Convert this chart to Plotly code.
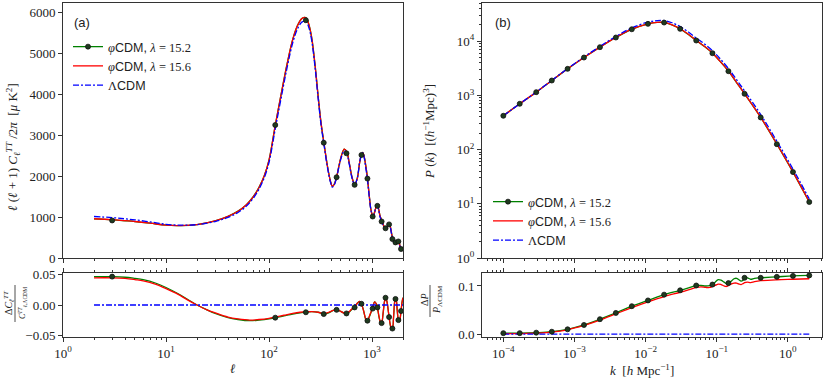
import plotly.graph_objects as go

# ─── Colours ────────────────────────────────────────────────────────────────
GREEN = "#008000"
RED = "#ff0000"
BLUE = "#0000ff"
AXIS = "#333333"
TEXT = "#222222"
SERIF = "Liberation Serif"
SANS = "Liberation Sans"

# ─── (a) CMB TT spectrum ────────────────────────────────────────────────────
ELL = [2, 3, 4, 5, 7, 10, 14, 20, 30, 40, 50, 60, 70, 80, 90, 100, 115, 130,
       150, 170, 190, 210, 228, 245, 260, 280, 300, 320, 340, 370, 395, 412,
       430, 454, 480, 510, 538, 568, 600, 640, 679, 720, 760, 790, 813, 840,
       870, 900, 940, 980, 1023, 1060, 1100, 1127, 1160, 1200, 1243, 1290,
       1348, 1400, 1440, 1476, 1520, 1560, 1589, 1620, 1660, 1710, 1760, 1800,
       1850, 1900, 1950, 2000]
DL_LCDM = [1012, 985, 955, 930, 880, 822, 800, 815, 890, 990, 1110, 1260, 1450,
           1680, 1960, 2330, 3150, 3850, 4650, 5250, 5600, 5760, 5780, 5600,
           5300, 4650, 3900, 3250, 2800, 2200, 1850, 1730, 1780, 1970, 2250,
           2500, 2620, 2560, 2300, 1950, 1790, 1950, 2350, 2520, 2570, 2450,
           2200, 1940, 1500, 1150, 1010, 1120, 1250, 1272, 1170, 990, 890, 790,
           730, 760, 810, 827, 700, 540, 462, 400, 370, 380, 400, 404, 330, 220,
           200, 190]
DL_PHI_156 = [957, 935, 910, 890, 850, 800, 792, 815, 905, 1015, 1140, 1292,
              1485, 1720, 2005, 2385, 3230, 3940, 4735, 5330, 5680, 5845, 5860,
              5675, 5365, 4705, 3945, 3295, 2840, 2230, 1875, 1748, 1797, 1985,
              2272, 2530, 2655, 2595, 2330, 1970, 1797, 1945, 2340, 2515, 2575,
              2470, 2250, 1990, 1525, 1160, 1016, 1117, 1250, 1277, 1190, 1020,
              917, 800, 722, 760, 820, 835, 715, 560, 480, 407, 368, 378, 403,
              412, 340, 226, 202, 188]
DL_PHI_152 = [955, 932, 908, 888, 849, 800, 792, 816, 907, 1017, 1143, 1295,
              1488, 1723, 2008, 2388, 3233, 3943, 4738, 5333, 5683, 5848, 5862,
              5677, 5367, 4707, 3947, 3297, 2842, 2232, 1877, 1749, 1798, 1986,
              2273, 2531, 2656, 2596, 2331, 1971, 1798, 1946, 2341, 2516, 2576,
              2471, 2251, 1991, 1526, 1161, 1017, 1118, 1251, 1278, 1191, 1021,
              918, 801, 723, 761, 821, 836, 716, 561, 481, 408, 369, 379, 404,
              413, 341, 227, 203, 189]
ELL_MARK = [3, 115, 228, 340, 453, 565, 678, 790, 903, 1015, 1128, 1240, 1353,
            1465, 1578, 1690, 1803, 1915]
DL_MARK = [916, 3244, 5800, 2812, 1970, 2554, 1784, 2513, 1937, 1012, 1272,
           891, 725, 820, 462, 380, 404, 219]

ELL_R = [2, 3, 4, 5, 6, 8, 10, 13, 16, 20, 25, 30, 40, 50, 65, 80, 100, 115,
         140, 170, 200, 228, 260, 300, 340, 380, 420, 453, 490, 530, 565, 600,
         640, 678, 720, 760, 790, 830, 870, 903, 940, 980, 1015, 1060, 1100,
         1128, 1170, 1210, 1240, 1280, 1320, 1353, 1400, 1440, 1465, 1500,
         1540, 1578, 1620, 1660, 1690, 1720, 1760, 1803, 1850, 1880, 1915,
         1960, 2000]
RES_152 = [0.047, 0.047, 0.046, 0.044, 0.042, 0.036, 0.029, 0.019, 0.010,
           0.000, -0.008, -0.014, -0.021, -0.024, -0.026, -0.025, -0.023,
           -0.021, -0.018, -0.015, -0.013, -0.012, -0.011, -0.012, -0.015,
           -0.013, -0.009, -0.008, -0.010, -0.013, -0.014, -0.012, -0.007,
           -0.004, 0.003, 0.006, 0.002, -0.010, -0.024, -0.027, -0.020, -0.012,
           -0.006, 0.005, 0.002, -0.004, -0.020, -0.029, -0.030, -0.015, 0.005,
           0.012, 0.005, -0.010, -0.020, -0.032, -0.039, -0.039, -0.020, 0.005,
           0.010, 0.008, -0.010, -0.025, -0.028, -0.022, -0.010, 0.005, 0.012]
RES_156 = [0.045, 0.045, 0.044, 0.042, 0.040, 0.034, 0.027, 0.018, 0.009,
           0.000, -0.008, -0.013, -0.020, -0.023, -0.025, -0.024, -0.022,
           -0.020, -0.017, -0.014, -0.012, -0.011, -0.011, -0.012, -0.014,
           -0.012, -0.009, -0.008, -0.010, -0.013, -0.013, -0.011, -0.006,
           -0.003, 0.003, 0.006, 0.002, -0.010, -0.023, -0.026, -0.019, -0.011,
           -0.005, 0.005, 0.002, -0.004, -0.019, -0.028, -0.029, -0.014, 0.005,
           0.012, 0.005, -0.010, -0.019, -0.031, -0.038, -0.038, -0.019, 0.005,
           0.010, 0.008, -0.010, -0.024, -0.027, -0.021, -0.009, 0.005, 0.012]
RES_MARK = [0.047, -0.021, -0.012, -0.015, -0.008, -0.014, -0.004, 0.002,
            -0.026, -0.006, -0.004, -0.030, 0.012, -0.020, -0.039, 0.010,
            -0.025, -0.010]

# ─── (b) matter power spectrum ──────────────────────────────────────────────
K = [1.0e-4, 1.7e-4, 2.9e-4, 4.8e-4, 8.0e-4, 1.36e-3, 2.28e-3, 3.82e-3, 6.4e-3,
     1.08e-2, 1.45e-2, 1.82e-2, 2.35e-2, 3.06e-2, 4.0e-2, 5.15e-2, 6.8e-2,
     8.7e-2, 0.11, 0.146, 0.19, 0.246, 0.415, 0.70, 1.18, 2.0]
PK_LCDM = [422, 701, 1151, 1893, 3120, 5100, 8010, 12240, 17630, 22470, 23950,
           24080, 21900, 18590, 14750, 11460, 8800, 6700, 4850, 3130, 1950, 1210,
           444, 143, 43.8, 12.3]
PK_PHI_152 = [421, 700, 1148, 1884, 3090, 5000, 7760, 11700, 16600, 20900,
              22200, 22100, 20000, 16900, 13300, 10300, 7900, 6010, 4350, 2800,
              1725, 1070, 392, 126, 38.5, 10.8]
PK_PHI_156 = [421, 700, 1149, 1886, 3095, 5010, 7780, 11740, 16660, 20980,
              22300, 22200, 20100, 17000, 13400, 10380, 7960, 6060, 4330, 2820,
              1745, 1080, 396, 127, 38.9, 10.9]
K_MARK = [1.0e-4, 1.7e-4, 2.9e-4, 4.8e-4, 8.0e-4, 1.36e-3, 2.28e-3, 3.82e-3,
          6.4e-3, 1.08e-2, 1.82e-2, 3.06e-2, 5.15e-2, 8.7e-2, 0.146, 0.246,
          0.415, 0.70, 1.18, 2.0]
PK_MARK = [421, 700, 1148, 1884, 3090, 5000, 7760, 11700, 16600, 20900, 22100,
           16900, 10300, 6010, 2800, 1070, 392, 126, 38.5, 10.8]

K_R = [1.0e-4, 1.7e-4, 2.9e-4, 4.8e-4, 8.0e-4, 1.36e-3, 2.28e-3, 3.82e-3,
       6.4e-3, 1.08e-2, 1.82e-2, 3.06e-2, 4.2e-2, 5.15e-2, 6.0e-2, 7.0e-2,
       8.0e-2, 8.7e-2, 0.095, 0.105, 0.115, 0.127, 0.137, 0.146, 0.16, 0.175,
       0.19, 0.205, 0.22, 0.235, 0.246, 0.27, 0.30, 0.34, 0.415, 0.70, 1.18, 2.0]
DP_152 = [0.002, 0.002, 0.003, 0.005, 0.010, 0.019, 0.031, 0.044, 0.058, 0.070,
          0.082, 0.091, 0.097, 0.101, 0.101, 0.100, 0.101, 0.103, 0.108, 0.113,
          0.112, 0.108, 0.105, 0.106, 0.110, 0.115, 0.116, 0.113, 0.110, 0.112,
          0.116, 0.117, 0.114, 0.116, 0.117, 0.119, 0.121, 0.122]
DP_156 = [0.001, 0.001, 0.002, 0.004, 0.009, 0.018, 0.029, 0.042, 0.055, 0.067,
          0.078, 0.087, 0.093, 0.097, 0.098, 0.097, 0.097, 0.099, 0.101, 0.104,
          0.103, 0.100, 0.099, 0.101, 0.104, 0.106, 0.106, 0.104, 0.103, 0.105,
          0.107, 0.108, 0.107, 0.109, 0.111, 0.113, 0.114, 0.115]
DP_MARK = [0.002, 0.002, 0.003, 0.005, 0.010, 0.019, 0.031, 0.044, 0.058, 0.070,
           0.082, 0.091, 0.101, 0.103, 0.106, 0.117, 0.117, 0.119, 0.121, 0.122]

W, H = 830, 383


def px(x):
    return x / W


def py(y):
    return 1 - y / H


LEFT = [px(63), px(403)]
RIGHT = [px(482), px(822)]
MAIN = [py(258), py(3)]
RES = [py(337), py(273)]

PHI = "<span style='font-family:Liberation Serif'><i>φ</i></span>"
LAM = "<span style='font-family:Liberation Serif'><i>λ</i> = "
NAMES = [f"{PHI}CDM, {LAM}15.2</span>",
         f"{PHI}CDM, {LAM}15.6</span>",
         "<span style='font-family:Liberation Serif'>Λ</span>CDM"]

LINE_W = 1.3
DASHDOT = "6px,2px,2px,2px"
MARKER = dict(size=5, color="#1f3a1f", line=dict(color="#111", width=0.8))


def add_panel(fig, xs, ys, xr, yr, xm, ym, xa, ya, xra, yra, legend):
    """main curves + residual curves for one panel"""
    x_main, (y152, y156, ylcdm) = xs, ys
    x_res, (r152, r156) = xr, yr
    # main
    fig.add_trace(go.Scatter(x=x_main, y=y152, mode="lines", line=dict(color=GREEN, width=LINE_W, shape="spline"),
                             xaxis=xa, yaxis=ya, showlegend=False, hoverinfo="skip"))
    fig.add_trace(go.Scatter(x=x_main, y=y156, mode="lines", line=dict(color=RED, width=LINE_W, shape="spline"),
                             xaxis=xa, yaxis=ya, showlegend=False, hoverinfo="skip"))
    fig.add_trace(go.Scatter(x=x_main, y=ylcdm, mode="lines",
                             line=dict(color=BLUE, width=LINE_W, dash=DASHDOT, shape="spline"),
                             xaxis=xa, yaxis=ya, showlegend=False, hoverinfo="skip"))
    fig.add_trace(go.Scatter(x=xm[0], y=ym[0], mode="markers", marker=MARKER,
                             xaxis=xa, yaxis=ya, showlegend=False))
    # residual
    fig.add_trace(go.Scatter(x=x_res, y=r152, mode="lines", line=dict(color=GREEN, width=LINE_W, shape="spline"),
                             xaxis=xra, yaxis=yra, showlegend=False, hoverinfo="skip"))
    fig.add_trace(go.Scatter(x=x_res, y=r156, mode="lines", line=dict(color=RED, width=LINE_W, shape="spline"),
                             xaxis=xra, yaxis=yra, showlegend=False, hoverinfo="skip"))
    fig.add_trace(go.Scatter(x=[x_res[0], x_res[-1]], y=[0, 0], mode="lines",
                             line=dict(color=BLUE, width=LINE_W, dash=DASHDOT),
                             xaxis=xra, yaxis=yra, showlegend=False, hoverinfo="skip"))
    fig.add_trace(go.Scatter(x=xm[1], y=ym[1], mode="markers", marker=MARKER,
                             xaxis=xra, yaxis=yra, showlegend=False))
    # legend-only entries
    fig.add_trace(go.Scatter(x=[None], y=[None], mode="lines+markers", name=NAMES[0],
                             line=dict(color=GREEN, width=LINE_W), marker=MARKER,
                             xaxis=xa, yaxis=ya, legend=legend))
    fig.add_trace(go.Scatter(x=[None], y=[None], mode="lines", name=NAMES[1],
                             line=dict(color=RED, width=LINE_W), xaxis=xa, yaxis=ya, legend=legend))
    fig.add_trace(go.Scatter(x=[None], y=[None], mode="lines", name=NAMES[2],
                             line=dict(color=BLUE, width=LINE_W, dash=DASHDOT),
                             xaxis=xa, yaxis=ya, legend=legend))


fig = go.Figure()
add_panel(fig, ELL, (DL_PHI_152, DL_PHI_156, DL_LCDM), ELL_R, (RES_152, RES_156),
          (ELL_MARK, ELL_MARK), (DL_MARK, RES_MARK), "x", "y", "x2", "y2", "legend")
add_panel(fig, K, (PK_PHI_152, PK_PHI_156, PK_LCDM), K_R, (DP_152, DP_156),
          (K_MARK, K_MARK), (PK_MARK, DP_MARK), "x3", "y3", "x4", "y4", "legend2")

ax = dict(showline=True, linecolor=AXIS, linewidth=1, mirror=True, ticks="outside",
          ticklen=4, tickwidth=1, tickcolor=AXIS, showgrid=False, zeroline=False,
          automargin=False, tickfont=dict(family=SERIF, size=13, color=TEXT))


def log_minor(lo, hi):
    return [m * 10.0 ** e for e in range(lo, hi) for m in range(2, 10)]


def minor(vals):
    return dict(tickmode="array", tickvals=vals, ticks="outside", ticklen=2,
                tickcolor=AXIS, showgrid=False)


ell_ticks = [1, 10, 100, 1000]
ell_text = ["10<sup>0</sup>", "10<sup>1</sup>", "10<sup>2</sup>", "10<sup>3</sup>"]
k_ticks = [1e-4, 1e-3, 1e-2, 1e-1, 1]
k_text = ["10<sup>−4</sup>", "10<sup>−3</sup>", "10<sup>−2</sup>", "10<sup>−1</sup>", "10<sup>0</sup>"]
pk_ticks = [1, 10, 100, 1000, 10000]
pk_text = ["10<sup>0</sup>", "10<sup>1</sup>", "10<sup>2</sup>", "10<sup>3</sup>", "10<sup>4</sup>"]

fig.update_layout(
    width=W, height=H, margin=dict(l=0, r=0, t=0, b=0, autoexpand=False),
    paper_bgcolor="white", plot_bgcolor="white",
    font=dict(family=SERIF, color=TEXT, size=13),
    xaxis=dict(ax, type="log", range=[0, 3.301], domain=LEFT, anchor="y",
               tickvals=ell_ticks, showticklabels=False, minor=minor(log_minor(0, 4))),
    xaxis2=dict(ax, type="log", range=[0, 3.301], domain=LEFT, anchor="y2", mirror="allticks",
                tickvals=ell_ticks, ticktext=ell_text, minor=minor(log_minor(0, 4))),
    yaxis=dict(ax, range=[0, 6220], domain=MAIN, anchor="x",
               tickvals=[0, 1000, 2000, 3000, 4000, 5000, 6000]),
    yaxis2=dict(ax, range=[-0.053, 0.053], domain=RES, anchor="x2",
                tickvals=[-0.05, 0, 0.05], ticktext=["−0.05", "0.00", "0.05"]),
    xaxis3=dict(ax, type="log", range=[-4.3, 0.48], domain=RIGHT, anchor="y3",
                tickvals=k_ticks, showticklabels=False, minor=minor(log_minor(-5, 1))),
    xaxis4=dict(ax, type="log", range=[-4.3, 0.48], domain=RIGHT, anchor="y4", mirror="allticks",
                tickvals=k_ticks, ticktext=k_text, minor=minor(log_minor(-5, 1))),
    yaxis3=dict(ax, type="log", range=[0, 4.705], domain=MAIN, anchor="x3",
                tickvals=pk_ticks, ticktext=pk_text, minor=minor(log_minor(0, 5))),
    yaxis4=dict(ax, range=[-0.006, 0.127], domain=RES, anchor="x4",
                tickvals=[0, 0.1], ticktext=["0.0", "0.1"]),
    legend=dict(x=px(68), y=py(32), xanchor="left", yanchor="top", bgcolor="rgba(0,0,0,0)",
                font=dict(family=SANS, size=12.5, color=TEXT), tracegroupgap=0),
    legend2=dict(x=px(488), y=py(187), xanchor="left", yanchor="top", bgcolor="rgba(0,0,0,0)",
                 font=dict(family=SANS, size=12.5, color=TEXT), tracegroupgap=0),
)

ann = dict(xref="paper", yref="paper", showarrow=False, xanchor="center", yanchor="middle",
           font=dict(family=SERIF, size=13, color=TEXT))
fig.add_annotation(ann, x=px(82), y=py(23), text="(a)", font=dict(family=SANS, size=13, color=TEXT))
fig.add_annotation(ann, x=px(503), y=py(23), text="(b)", font=dict(family=SANS, size=13, color=TEXT))
fig.add_annotation(ann, x=px(13), y=py(147), textangle=-90,
                   text="<i>ℓ</i> (<i>ℓ</i> + 1) <i>C<sub>ℓ</sub><sup>TT</sup></i> /2<i>π</i>  [<i>μ</i> K<sup>2</sup>]")
fig.add_annotation(ann, x=px(429), y=py(131), textangle=-90,
                   text="<i>P</i> (<i>k</i>)  [(<i>h</i><sup>−1</sup>Mpc)<sup>3</sup>]")
fig.add_annotation(ann, x=px(233), y=py(368), text="<i>ℓ</i>")
fig.add_annotation(ann, x=px(642), y=py(370), text="<i>k</i>  [<i>h</i> Mpc<sup>−1</sup>]")
# residual y-labels as stacked fractions
small = dict(family=SERIF, size=10, color=TEXT)
fig.add_annotation(ann, x=px(9), y=py(303), textangle=-90, font=small,
                   text="Δ<i>C<sub>ℓ</sub><sup>TT</sup></i>")
fig.add_annotation(ann, x=px(22), y=py(303), textangle=-90, font=dict(small, size=8),
                   text="<i>C</i><sup><i>TT</i></sup><sub><i>ℓ</i>,ΛCDM</sub>")
fig.add_shape(type="line", xref="paper", yref="paper", x0=px(15), x1=px(15), y0=py(285), y1=py(322),
              line=dict(color=TEXT, width=0.8))
fig.add_annotation(ann, x=px(424), y=py(300), textangle=-90, font=small, text="Δ<i>P</i>")
fig.add_annotation(ann, x=px(437), y=py(300), textangle=-90, font=small,
                   text="<i>P</i><sub>ΛCDM</sub>")
fig.add_shape(type="line", xref="paper", yref="paper", x0=px(430), x1=px(430), y0=py(285), y1=py(317),
              line=dict(color=TEXT, width=0.8))

# page body has a default 8px margin; drop it so the figure fills the window
fig.write_html("out.html", config={"displayModeBar": False},
               post_script="document.body.style.margin='0';")
